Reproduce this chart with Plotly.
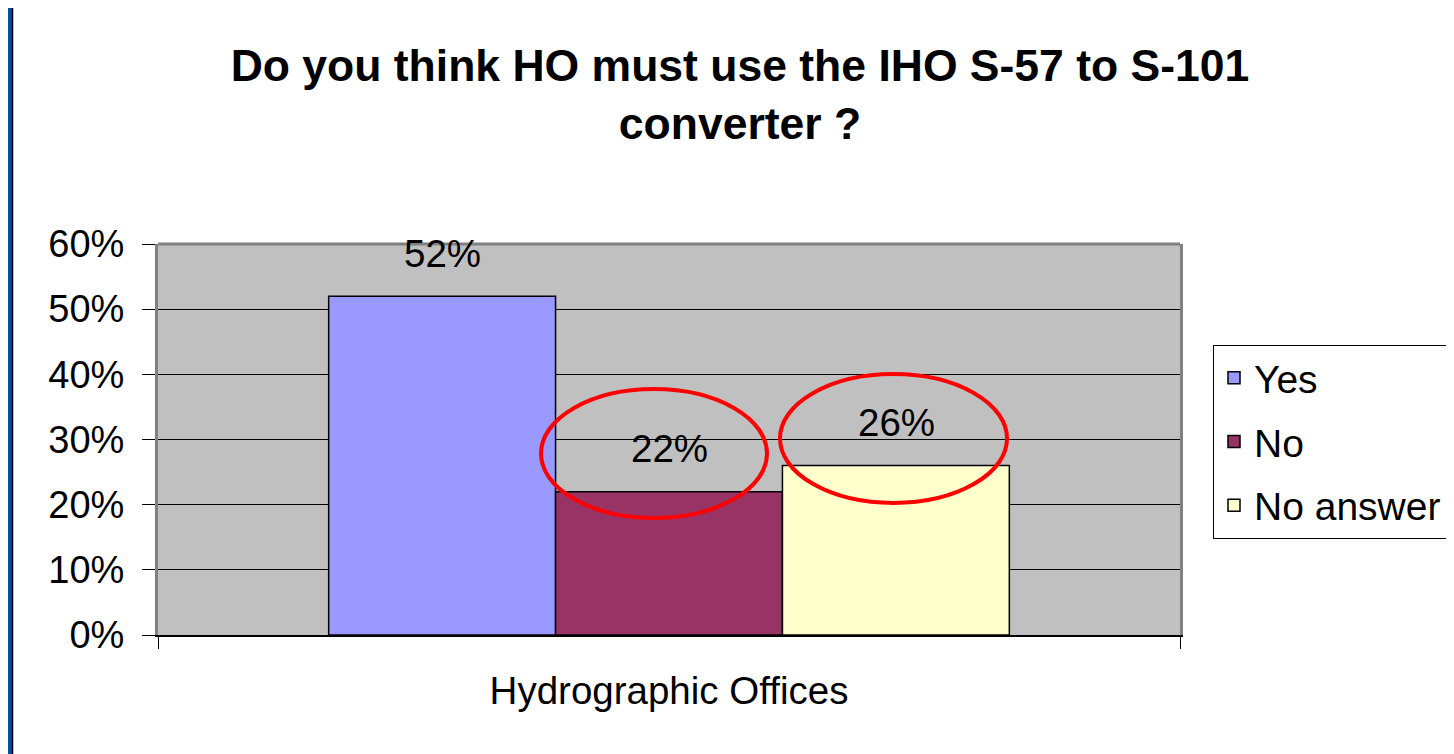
import plotly.graph_objects as go

categories = ["Hydrographic Offices"]
series_names = ["Yes", "No", "No answer"]
series_values = [52, 22, 26]
series_colors = ["#9999FF", "#993366", "#FFFFCC"]
tick_vals = [0, 10, 20, 30, 40, 50, 60]
tick_text = ["0%", "10%", "20%", "30%", "40%", "50%", "60%"]

# page places the figure at an 8px body offset
OFF = 8
W, H = 1446, 746
L, R, T, B = 150, 274, 236, 119
pw, ph = W - L - R, H - T - B

def px_x(x):
    return (x - OFF - L) / pw

def px_y(y):
    return (H - B - (y - OFF)) / ph

FONT = "Liberation Sans, Arial, sans-serif"

fig = go.Figure()
for name, val, col in zip(series_names, series_values, series_colors):
    fig.add_trace(go.Bar(
        x=categories, y=[val], name=name, legendgroup=name,
        marker=dict(color=col, line=dict(color="black", width=1.5)),
    ))

annotations = []
shifts = [-227, 0, 227]
for name, val, sh in zip(series_names, series_values, shifts):
    annotations.append(dict(
        x=categories[0], y=val, xref="x", yref="y", text=f"{val}%",
        showarrow=False, xshift=sh, yshift=43, yanchor="middle",
        font=dict(size=38.5, color="black", family=FONT),
    ))

shapes = [
    # slide frame (left strip)
    dict(type="rect", xref="paper", yref="paper", x0=px_x(8), x1=px_x(12), y0=px_y(OFF + H), y1=px_y(OFF),
         fillcolor="#0050A8", line=dict(width=0), layer="above"),
    dict(type="line", xref="paper", yref="paper", x0=px_x(12.5), x1=px_x(12.5), y0=px_y(OFF + H), y1=px_y(OFF),
         line=dict(color="black", width=1.5), layer="above"),
    # plot top border
    dict(type="line", xref="paper", yref="paper", x0=0, x1=1, y0=1, y1=1,
         line=dict(color="#808080", width=3), layer="above"),
    # red ellipses
    dict(type="circle", xref="paper", yref="paper", x0=px_x(541), x1=px_x(767), y0=px_y(518), y1=px_y(389),
         line=dict(color="#FF0000", width=4), layer="above"),
    dict(type="circle", xref="paper", yref="paper", x0=px_x(780), x1=px_x(1007), y0=px_y(503), y1=px_y(374),
         line=dict(color="#FF0000", width=4), layer="above"),
]

fig.update_layout(
    width=W, height=H,
    margin=dict(l=L, r=R, t=T, b=B, autoexpand=False),
    paper_bgcolor="white", plot_bgcolor="#C0C0C0",
    font=dict(family=FONT, color="black", size=38.5),
    barmode="group", bargap=0.334, bargroupgap=0,
    title=dict(
        text="<b>Do you think HO must use the IHO S-57 to S-101<br>converter ?</b>",
        x=(740 - OFF) / W, xanchor="center", y=1 - 73 / H, yanchor="middle",
        xref="container", yref="container",
        font=dict(size=44.5, family=FONT, color="black"),
    ),
    legend=dict(
        x=px_x(1213), y=px_y(345), xanchor="left", yanchor="top",
        bgcolor="white", bordercolor="black", borderwidth=1,
        font=dict(size=39, family=FONT), tracegroupgap=10, traceorder="grouped",
    ),
    xaxis=dict(
        type="category", showline=True, linecolor="black", linewidth=1.5,
        ticks="outside", ticklen=12, tickcolor="black", tickson="boundaries",
        showgrid=False, tickfont=dict(size=38.5, family=FONT), ticklabelstandoff=21,
    ),
    yaxis=dict(
        range=[0, 60], tickvals=tick_vals, ticktext=tick_text,
        showgrid=True, gridcolor="black", gridwidth=1,
        showline=True, linecolor="#808080", linewidth=3, mirror=True,
        ticks="outside", ticklen=13, tickcolor="black",
        zeroline=False, tickfont=dict(size=38, family=FONT), ticklabelstandoff=10,
    ),
    annotations=annotations,
    shapes=shapes,
)

fig.write_html("out.html")
